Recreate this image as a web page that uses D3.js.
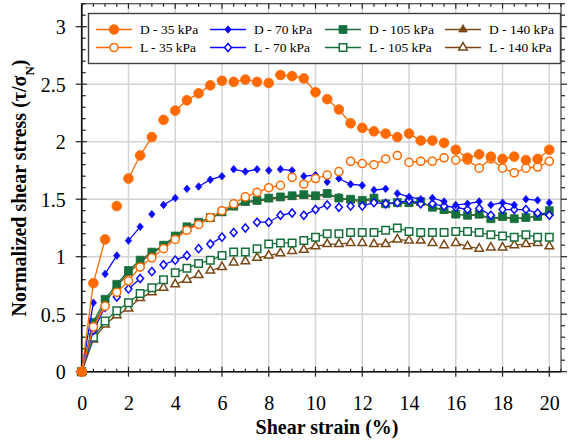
<!DOCTYPE html>
<html>
<head>
<meta charset="utf-8">
<script src="https://cdn.jsdelivr.net/npm/d3@7"></script>
<style>
  body { margin: 0; background: #fff; }
  svg { display: block; }
  text { font-family: "Liberation Serif", "Times New Roman", serif; fill: #000; }
</style>
</head>
<body>
<svg id="chart" width="572" height="440"></svg>
<script>
// Shear strain (%) at which each reading was taken
const strain = [0, 0.5, 1, 1.5, 2, 2.5, 3, 3.5, 4, 4.5, 5, 5.5, 6, 6.5, 7, 7.5, 8, 8.5, 9, 9.5,
                10, 10.5, 11, 11.5, 12, 12.5, 13, 13.5, 14, 14.5, 15, 15.5, 16, 16.5, 17, 17.5, 18, 18.5, 19, 19.5, 20];

// Normalized shear stress τ/σN for each test
const d35  = [0, 0.77, 1.15, 1.44, 1.68, 1.88, 2.04, 2.19, 2.27, 2.36, 2.42, 2.49, 2.53, 2.52, 2.54, 2.52, 2.51, 2.58, 2.57, 2.55,
              2.43, 2.37, 2.28, 2.16, 2.12, 2.09, 2.07, 2.04, 2.07, 2.01, 2.01, 1.99, 1.93, 1.86, 1.89, 1.87, 1.85, 1.87, 1.84, 1.85, 1.93];
const l35  = [0, 0.39, 0.57, 0.69, 0.79, 0.91, 0.99, 1.07, 1.15, 1.23, 1.28, 1.34, 1.40, 1.46, 1.52, 1.56, 1.60, 1.62, 1.69, 1.63,
              1.68, 1.71, 1.74, 1.83, 1.81, 1.80, 1.85, 1.88, 1.82, 1.83, 1.83, 1.86, 1.84, 1.84, 1.77, 1.85, 1.77, 1.73, 1.77, 1.78, 1.83];
const d70  = [0, 0.60, 0.85, 1.01, 1.14, 1.26, 1.37, 1.45, 1.51, 1.59, 1.61, 1.67, 1.70, 1.76, 1.74, 1.76, 1.75, 1.76, 1.75, 1.70,
              1.71, 1.65, 1.68, 1.63, 1.62, 1.58, 1.59, 1.55, 1.52, 1.50, 1.51, 1.48, 1.45, 1.46, 1.48, 1.45, 1.47, 1.45, 1.50, 1.49, 1.47];
const l70  = [0, 0.36, 0.56, 0.65, 0.72, 0.81, 0.87, 0.93, 0.97, 1.01, 1.07, 1.11, 1.17, 1.21, 1.25, 1.30, 1.30, 1.36, 1.38, 1.36,
              1.41, 1.45, 1.43, 1.44, 1.44, 1.47, 1.46, 1.47, 1.49, 1.46, 1.46, 1.44, 1.43, 1.41, 1.42, 1.36, 1.41, 1.41, 1.41, 1.38, 1.36];
const d105 = [0, 0.43, 0.63, 0.76, 0.88, 0.97, 1.04, 1.10, 1.18, 1.26, 1.30, 1.34, 1.39, 1.44, 1.48, 1.49, 1.51, 1.52, 1.53, 1.54,
              1.53, 1.55, 1.51, 1.50, 1.49, 1.51, 1.46, 1.47, 1.47, 1.48, 1.43, 1.41, 1.37, 1.36, 1.37, 1.33, 1.35, 1.33, 1.34, 1.35, 1.40];
const l105 = [0, 0.30, 0.44, 0.53, 0.60, 0.68, 0.73, 0.80, 0.86, 0.90, 0.94, 0.97, 1.01, 1.04, 1.04, 1.07, 1.11, 1.12, 1.12, 1.14,
              1.17, 1.20, 1.20, 1.21, 1.21, 1.21, 1.23, 1.25, 1.22, 1.21, 1.21, 1.21, 1.22, 1.22, 1.21, 1.19, 1.18, 1.17, 1.19, 1.17, 1.17];
const d140 = [0, 0.40, 0.60, 0.74, 0.86, 0.95, 1.03, 1.09, 1.17, 1.24, 1.29, 1.33, 1.38, 1.43, 1.47, 1.48, 1.50, 1.51, 1.52, 1.53,
              1.52, 1.54, 1.51, 1.49, 1.48, 1.50, 1.46, 1.47, 1.46, 1.47, 1.43, 1.40, 1.37, 1.36, 1.36, 1.33, 1.34, 1.33, 1.34, 1.35, 1.38];
const l140 = [0, 0.28, 0.41, 0.49, 0.55, 0.64, 0.69, 0.73, 0.76, 0.80, 0.84, 0.88, 0.91, 0.95, 0.96, 0.99, 1.01, 1.03, 1.05, 1.06,
              1.09, 1.11, 1.11, 1.12, 1.12, 1.11, 1.11, 1.15, 1.14, 1.14, 1.12, 1.10, 1.12, 1.09, 1.07, 1.08, 1.08, 1.10, 1.11, 1.12, 1.09];

// Strains where the recorded trace drops out until the next reading
const d35Gaps  = [1, 1.5, 3, 3.5, 5.5, 6, 7.5, 8, 10, 11.5, 13.5, 15, 15.5, 17, 17.5, 18.5, 19];
const l35Gaps  = [1, 8.5, 9, 10.5, 11, 13, 13.5, 15.5];
const d70Gaps  = [0.5, 1.5, 2.5, 3, 4, 4.5, 6, 7.5, 8, 9, 10, 10.5, 12, 13, 14.5, 15.5, 17, 18.5, 19.5];
const l70Gaps  = [1, 1.5, 2.5, 3, 4.5, 5, 6, 6.5, 7, 9, 10.5, 11, 11.5, 14.5, 16.5, 17.5];
const d105Gaps = [];
const l105Gaps = [3.5, 6, 6.5, 7, 7.5, 9, 10.5, 11, 11.5, 12, 14, 14.5, 15, 15.5, 19.5];
const d140Gaps = [];
const l140Gaps = [3.5, 5, 6, 6.5, 7, 8.5, 9, 11.5, 12, 14, 14.5, 15, 15.5, 17, 17.5, 19.5];

// Axis tick labels
const xTicks = [0, 2, 4, 6, 8, 10, 12, 14, 16, 18, 20];
const yTicks = [0, 0.5, 1, 1.5, 2, 2.5, 3];

const ORANGE = "#ff6a00", BLUE = "#0a0aff", GREEN = "#15703c", BROWN = "#7a4814";

// A squat rhombus marker (width 0.85 of its height), sized by area
const rhombus = {
  draw(ctx, size) {
    const h = Math.sqrt(size / (2 * 0.85));
    const w = h * 0.85;
    ctx.moveTo(0, -h); ctx.lineTo(w, 0); ctx.lineTo(0, h); ctx.lineTo(-w, 0); ctx.closePath();
  }
};

// Series styling; the legend is laid out row by row in legendOrder
const series = {
  "D - 35 kPa":  { values: d35,  gaps: d35Gaps,  color: ORANGE, shape: d3.symbolCircle,   size: 74, filled: true },
  "L - 35 kPa":  { values: l35,  gaps: l35Gaps,  color: ORANGE, shape: d3.symbolCircle,   size: 52, filled: false },
  "D - 70 kPa":  { values: d70,  gaps: d70Gaps,  color: BLUE,   shape: rhombus,           size: 24, filled: true },
  "L - 70 kPa":  { values: l70,  gaps: l70Gaps,  color: BLUE,   shape: rhombus,           size: 28, filled: false },
  "D - 105 kPa": { values: d105, gaps: d105Gaps, color: GREEN,  shape: d3.symbolSquare,   size: 62, filled: true },
  "L - 105 kPa": { values: l105, gaps: l105Gaps, color: GREEN,  shape: d3.symbolSquare,   size: 56, filled: false },
  "D - 140 kPa": { values: d140, gaps: d140Gaps, color: BROWN,  shape: d3.symbolTriangle, size: 32, filled: true },
  "L - 140 kPa": { values: l140, gaps: l140Gaps, color: BROWN,  shape: d3.symbolTriangle, size: 32, filled: false }
};
const drawOrder = ["L - 140 kPa", "L - 105 kPa", "D - 140 kPa", "D - 105 kPa",
                   "L - 70 kPa", "D - 70 kPa", "L - 35 kPa", "D - 35 kPa"];
const legendOrder = [["D - 35 kPa", "D - 70 kPa", "D - 105 kPa", "D - 140 kPa"],
                     ["L - 35 kPa", "L - 70 kPa", "L - 105 kPa", "L - 140 kPa"]];

const svg = d3.select("#chart");
const W = 572, H = 440;
const m = { left: 81.7, right: 11, top: 3.7, bottom: 68.3 };
const x = d3.scaleLinear().domain([0, 20.5]).range([m.left, W - m.right]);
const y = d3.scaleLinear().domain([0, 3.2]).range([H - m.bottom, m.top]);
const x0 = x(0), x1 = x(20.5), y0 = y(0), y1 = y(3.2);

// Grid
const grid = svg.append("g").attr("stroke", "#d4d4d4").attr("stroke-width", 1.5);
grid.selectAll("line.gx").data(xTicks.filter(d => d > 0)).join("line")
  .attr("x1", d => x(d)).attr("x2", d => x(d)).attr("y1", y0).attr("y2", y1);
grid.selectAll("line.gy").data(yTicks.filter(d => d > 0)).join("line")
  .attr("x1", x0).attr("x2", x1).attr("y1", d => y(d)).attr("y2", d => y(d));

// Frame
svg.append("rect").attr("x", x0).attr("y", y1).attr("width", x1 - x0).attr("height", y0 - y1)
  .attr("fill", "none").attr("stroke", "#555").attr("stroke-width", 1.3);

// Tick marks
const xMinor = d3.range(0, 20.51, 0.5).filter(v => Math.abs(v / 2 - Math.round(v / 2)) > 1e-6);
const yMinor = d3.range(0, 3.201, 0.1).filter(v => Math.abs(v * 2 - Math.round(v * 2)) > 1e-6);
const ticks = svg.append("g").attr("stroke", "#222").attr("stroke-width", 1.2);
// bottom
ticks.selectAll(null).data(xTicks).join("line")
  .attr("x1", d => x(d)).attr("x2", d => x(d)).attr("y1", y0 - 5).attr("y2", y0 + 5);
ticks.selectAll(null).data(xMinor).join("line")
  .attr("x1", d => x(d)).attr("x2", d => x(d)).attr("y1", y0 - 3).attr("y2", y0);
// top
ticks.selectAll(null).data(xTicks).join("line")
  .attr("x1", d => x(d)).attr("x2", d => x(d)).attr("y1", y1).attr("y2", y1 + 5);
ticks.selectAll(null).data(xMinor).join("line")
  .attr("x1", d => x(d)).attr("x2", d => x(d)).attr("y1", y1).attr("y2", y1 + 3);
// left
ticks.selectAll(null).data(yTicks).join("line")
  .attr("x1", x0 - 6).attr("x2", x0 + 5).attr("y1", d => y(d)).attr("y2", d => y(d));
ticks.selectAll(null).data(yMinor).join("line")
  .attr("x1", x0).attr("x2", x0 + 4).attr("y1", d => y(d)).attr("y2", d => y(d));
// right
ticks.selectAll(null).data(yTicks).join("line")
  .attr("x1", x1).attr("x2", x1 + 6).attr("y1", d => y(d)).attr("y2", d => y(d));
ticks.selectAll(null).data(yMinor).join("line")
  .attr("x1", x1).attr("x2", x1 + 4).attr("y1", d => y(d)).attr("y2", d => y(d));

// Main axes lines
svg.append("line").attr("x1", x0).attr("x2", x0).attr("y1", y0).attr("y2", y1)
  .attr("stroke", "#111").attr("stroke-width", 1.6);
svg.append("line").attr("x1", x0).attr("x2", x1).attr("y1", y0).attr("y2", y0)
  .attr("stroke", "#111").attr("stroke-width", 1.6);

// Tick labels via axis generators
const xAxis = svg.append("g").attr("transform", `translate(0,${y0})`)
  .call(d3.axisBottom(x).tickValues(xTicks).tickFormat(d3.format("d")).tickSize(0).tickPadding(0));
xAxis.select(".domain").remove();
xAxis.selectAll("text").attr("y", 31).attr("dy", "0.35em")
  .style("font-size", "20px").style("font-family", "Liberation Serif, serif").attr("fill", "#000");

const yAxis = svg.append("g").attr("transform", `translate(${x0},0)`)
  .call(d3.axisLeft(y).tickValues(yTicks).tickFormat(d => String(d)).tickSize(0).tickPadding(0));
yAxis.select(".domain").remove();
yAxis.selectAll("text").attr("x", -16).attr("dy", "0.35em")
  .style("font-size", "20px").style("font-family", "Liberation Serif, serif").attr("fill", "#000");

// Axis titles
svg.append("text").attr("x", 327).attr("y", 427).attr("dy", "0.35em")
  .attr("text-anchor", "middle").style("font-size", "20px").style("font-weight", "bold")
  .text("Shear strain (%)");

const yTitle = svg.append("text")
  .attr("transform", `translate(19,${188}) rotate(-90)`)
  .attr("text-anchor", "middle").attr("dy", "0.35em")
  .style("font-size", "20px").style("font-weight", "bold");
yTitle.append("tspan").text("Normalized shear stress (τ/σ");
yTitle.append("tspan").attr("baseline-shift", "sub").style("font-size", "13px").text("N");
yTitle.append("tspan").text(")");

// Split a series into the continuous runs of its trace
function runs(values, gaps) {
  const out = [];
  let cur = [];
  values.forEach((v, i) => {
    cur.push(i);
    if (i === values.length - 1 || gaps.includes(strain[i])) {
      if (cur.length > 1) out.push(cur);
      cur = [];
    }
  });
  return out;
}

// Data
const plot = svg.append("g");
drawOrder.forEach(name => {
  const s = series[name];
  const g = plot.append("g");
  const line = d3.line().x(i => x(strain[i])).y(i => y(s.values[i]));
  g.selectAll("path.trace").data(runs(s.values, s.gaps)).join("path").attr("class", "trace")
    .attr("d", line)
    .attr("fill", "none").attr("stroke", s.color).attr("stroke-width", 1.3);
  g.selectAll("path.mk").data(s.values).join("path").attr("class", "mk")
    .attr("transform", (d, i) => `translate(${x(strain[i])},${y(d)})`)
    .attr("d", d3.symbol().type(s.shape).size(s.size))
    .attr("fill", s.filled ? s.color : "#fff")
    .attr("stroke", s.color).attr("stroke-width", s.filled ? 0.8 : 1.5);
});

// Legend
const lg = svg.append("g");
lg.append("rect").attr("x", 88.5).attr("y", 13.5).attr("width", 472).attr("height", 50)
  .attr("fill", "#fff").attr("stroke", "#404040").attr("stroke-width", 1.4);
const colX = [96, 210, 325, 445];
const rowY = [29.5, 47.5];
legendOrder.forEach((row, r) => row.forEach((name, c) => {
  const s = series[name];
  const gx = colX[c], gy = rowY[r];
  lg.append("line").attr("x1", gx).attr("x2", gx + 36).attr("y1", gy).attr("y2", gy)
    .attr("stroke", s.color).attr("stroke-width", 1.3);
  lg.append("path").attr("transform", `translate(${gx + 18},${gy})`)
    .attr("d", d3.symbol().type(s.shape).size(s.size))
    .attr("fill", s.filled ? s.color : "#fff")
    .attr("stroke", s.color).attr("stroke-width", s.filled ? 0.8 : 1.5);
  lg.append("text").attr("x", gx + 44).attr("y", gy).attr("dy", "0.35em")
    .style("font-size", "13.5px").text(name);
}));
</script>
</body>
</html>
